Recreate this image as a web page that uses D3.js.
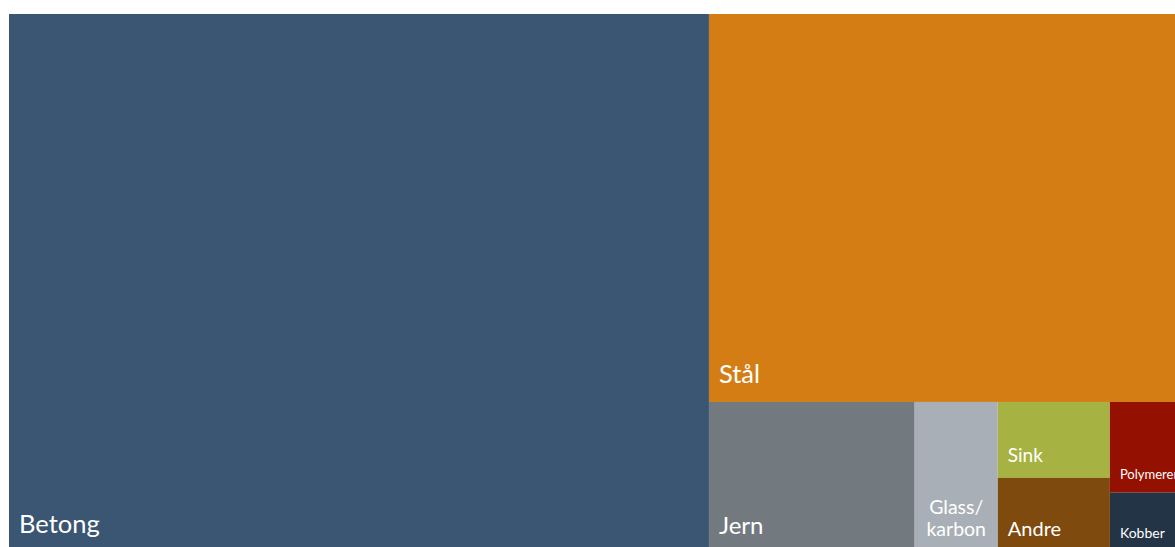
<!DOCTYPE html>
<html>
<head>
<meta charset="utf-8">
<script src="https://cdn.jsdelivr.net/npm/d3@7"></script>
<style>
  body { margin: 0; background: #fff; overflow: hidden; }
  svg { display: block; overflow: hidden; }
  text { font-family: Lato, "Open Sans", sans-serif; fill: #fff; }
</style>
</head>
<body>
<svg id="chart"></svg>
<script>
const WIDTH = 1175;
const HEIGHT = 547;
// plot runs a little past the window on the right and bottom, as in the picture
const AREA = { left: 9, top: 14, right: 1180, bottom: 552 };

// share of total (%)
const categories = ['Betong', 'Stål', 'Jern', 'Glass/karbon', 'Sink', 'Andre', 'Polymerer', 'Kobber'];
const values = [59.78, 29.01, 4.90, 1.98, 1.35, 1.32, 1.01, 0.66];
const colors = ['#3a5673', '#d57d15', '#72797f', '#a9afb6', '#a6b342', '#7f4a0e', '#941000', '#233446'];
const labelLines = [['Betong'], ['Stål'], ['Jern'], ['Glass/', 'karbon'], ['Sink'], ['Andre'], ['Polymerer'], ['Kobber']];

const fontSize = { Betong: 25.5, 'Stål': 25.5, Jern: 24, 'Glass/karbon': 19.5, Sink: 19, Andre: 20, Polymerer: 13, Kobber: 14 };

const svg = d3.select('#chart')
  .attr('width', WIDTH)
  .attr('height', HEIGHT);

const root = d3.hierarchy({
  children: categories.map((name, i) => ({ name, value: values[i], color: colors[i], lines: labelLines[i] }))
})
  .sum(d => d.value || 0);

d3.treemap()
  .tile(d3.treemapSquarify.ratio(1))
  .size([AREA.right - AREA.left, AREA.bottom - AREA.top])
  (root);

const cells = svg.append('g')
  .attr('transform', `translate(${AREA.left}, ${AREA.top})`)
  .selectAll('g')
  .data(root.leaves())
  .enter()
  .append('g')
  .attr('transform', d => `translate(${d.x0}, ${d.y0})`);

cells.append('rect')
  .attr('width', d => d.x1 - d.x0)
  .attr('height', d => d.y1 - d.y0)
  .attr('fill', d => d.data.color);

cells.each(function (d) {
  const g = d3.select(this);
  const size = fontSize[d.data.name];
  const w = d.x1 - d.x0;
  const h = d.y1 - d.y0;
  const lines = d.data.lines;
  const centered = lines.length > 1;
  const lineHeight = size * 1.13;
  const pad = 8 + size * 0.42;
  const text = g.append('text')
    .attr('font-size', size)
    .attr('text-anchor', centered ? 'middle' : 'start');
  lines.forEach((line, i) => {
    text.append('tspan')
      .attr('x', centered ? w / 2 : 10)
      .attr('y', h - pad - (lines.length - 1 - i) * lineHeight)
      .text(line);
  });
});
</script>
</body>
</html>
